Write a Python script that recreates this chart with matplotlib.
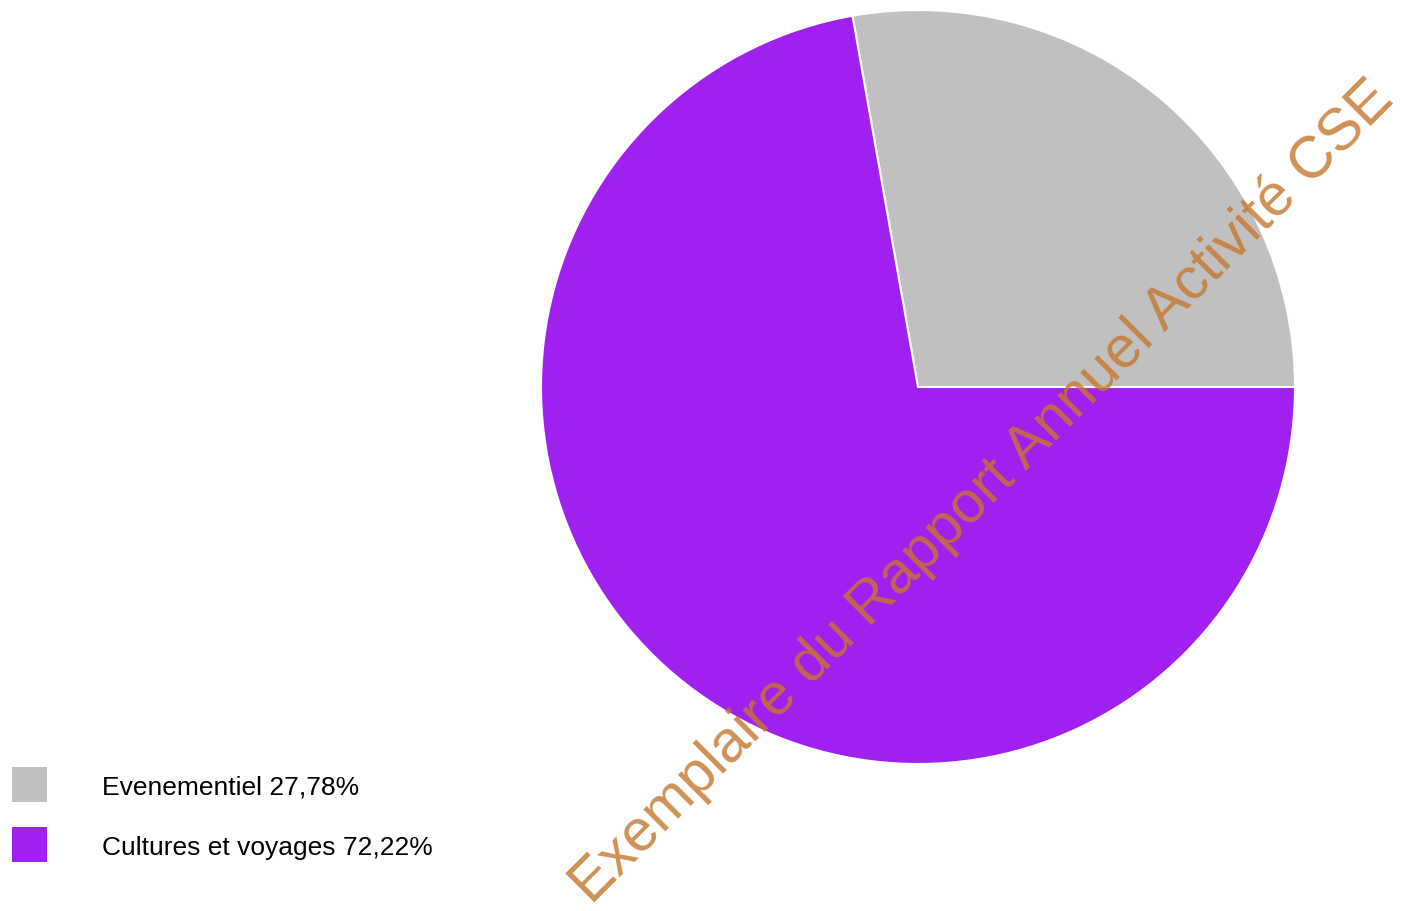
import matplotlib.pyplot as plt
from matplotlib.patches import Rectangle

plt.rcParams['font.family'] = ['Liberation Sans', 'DejaVu Sans']

labels = ["Evenementiel", "Cultures et voyages"]
shares = [27.78, 72.22]
colors = ["#C0C0C0", "#A020F0"]
watermark = "Exemplaire du Rapport Annuel Activité CSE"

W, H = 1417, 912
fig = plt.figure(figsize=(W / 100, H / 100), dpi=100)

# pie: centre (918, 388) px, radius 377 px
cx, cy, r = 918, 388, 377
ax = fig.add_axes([(cx - r) / W, (H - cy - r) / H, 2 * r / W, 2 * r / H])
ax.pie(shares, colors=colors, startangle=0, counterclock=True,
       wedgeprops=dict(edgecolor='white', linewidth=1.5))
ax.set_xlim(-1, 1)
ax.set_ylim(-1, 1)
ax.set_aspect('equal')
ax.axis('off')

# legend drawn in figure pixels
for i, (lab, val, col) in enumerate(zip(labels, shares, colors)):
    top = 768 + i * 60
    fig.patches.append(Rectangle((12 / W, (H - top - 35) / H), 35 / W, 35 / H,
                                 transform=fig.transFigure, facecolor=col,
                                 edgecolor='none'))
    fig.text(102 / W, (H - top - 20) / H, f"{lab} {val:.2f}%".replace('.', ','),
             fontsize=19, va='center', ha='left', color='black')

# watermark
fig.text(982 / W, (H - 492) / H, watermark, fontsize=42.3, rotation=45,
         rotation_mode='anchor', ha='center', va='center',
         color='#C4782F', alpha=0.82)

fig.savefig("out.png", dpi=100)
